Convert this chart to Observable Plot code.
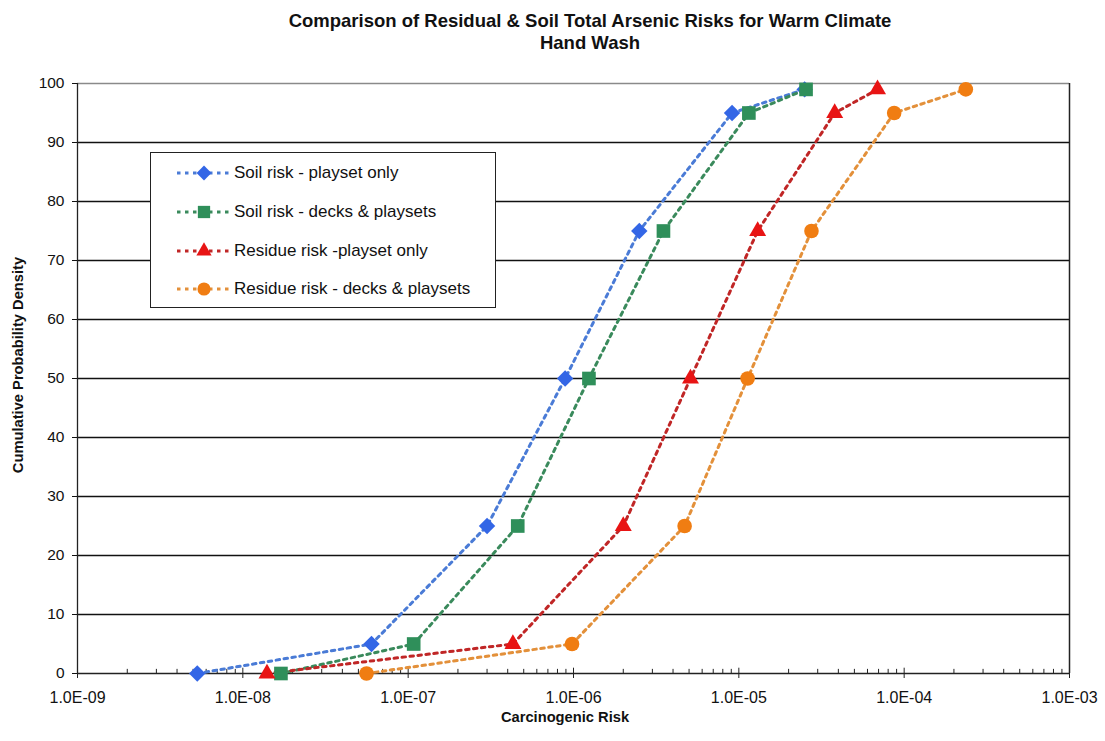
<!DOCTYPE html>
<html>
<head>
<meta charset="utf-8">
<script src="https://cdn.jsdelivr.net/npm/d3@7"></script>
<script src="https://cdn.jsdelivr.net/npm/@observablehq/plot@0.6"></script>
<style>
  body { margin: 0; background: #fff; font-family: "Liberation Sans", Arial, sans-serif; }
  #wrap { position: relative; width: 1105px; height: 741px; overflow: hidden; }
  #title { position: absolute; top: 10px; left: 90px; width: 1000px; text-align: center; font-weight: bold; font-size: 18.5px; line-height: 22px; color: #111; }
  #chart { position: absolute; top: 60px; left: 0; }
  #xtitle { position: absolute; top: 709px; left: 0; width: 1130px; text-align: center; font-weight: bold; font-size: 14.7px; color: #111; }
  #ytitle { position: absolute; left: 18px; top: 365px; transform: translate(-50%, -50%) rotate(-90deg); white-space: nowrap; font-weight: bold; font-size: 14.7px; color: #111; }
  #legend { position: absolute; left: 150px; top: 152px; width: 346px; height: 156px; border: 1.5px solid #222; background: #fff; box-sizing: border-box; padding-top: 1px; }
  .row { height: 38.7px; display: flex; align-items: center; }
  .row svg { margin-left: 24px; margin-right: 1px; }
  .row span { font-size: 17px; color: #111; white-space: nowrap; }
</style>
</head>
<body>
<div id="wrap">
  <div id="title">Comparison of Residual &amp; Soil Total Arsenic Risks for Warm Climate<br>Hand Wash</div>
  <div id="chart"></div>
  <div id="xtitle">Carcinogenic Risk</div>
  <div id="ytitle">Cumulative Probability Density</div>
  <div id="legend"></div>
</div>
<script>
// ---- data ----
const seriesNames = [
  "Soil risk - playset only",
  "Soil risk - decks & playsets",
  "Residue risk -playset only",
  "Residue risk - decks & playsets"
];
const percentiles = [0, 5, 25, 50, 75, 95, 99];
const soilPlaysetRisk   = [5.3e-9, 6.0e-8, 3.0e-7, 8.9e-7, 2.5e-6, 9.1e-6, 2.5e-5];
const soilDecksRisk     = [1.7e-8, 1.08e-7, 4.6e-7, 1.24e-6, 3.5e-6, 1.15e-5, 2.55e-5];
const residuePlaysetRisk= [1.4e-8, 4.3e-7, 2.0e-6, 5.1e-6, 1.3e-5, 3.8e-5, 6.9e-5];
const residueDecksRisk  = [5.6e-8, 9.8e-7, 4.7e-6, 1.13e-5, 2.75e-5, 8.7e-5, 2.36e-4];
const xMajorTicks = [1e-9, 1e-8, 1e-7, 1e-6, 1e-5, 1e-4, 1e-3];
const yTicks = [0, 10, 20, 30, 40, 50, 60, 70, 80, 90, 100];

const lineColors = ["#4a7bd6", "#3a8a5c", "#c02626", "#e3903a"];
const dotColors  = ["#3366e6", "#2f8f5a", "#e81414", "#f07d12"];
const symbols    = ["diamond2", "square", "triangle", "circle"];
const symbolR    = [7.4, 7.7, 6.3, 7.3];

const allRisks = [soilPlaysetRisk, soilDecksRisk, residuePlaysetRisk, residueDecksRisk];
const data = [];
allRisks.forEach((arr, i) => arr.forEach((v, j) => data.push({series: seriesNames[i], risk: v, p: percentiles[j], idx: i})));

const minorTicks = [];
xMajorTicks.slice(0, -1).forEach(m => { for (let k = 2; k <= 9; k++) minorTicks.push(m * k); });

const fmt = d => {
  const e = Math.round(Math.log10(d));
  return "1.0E" + (e < 0 ? "-" : "+") + String(Math.abs(e)).padStart(2, "0");
};

const marks = [
  Plot.ruleY(yTicks.filter(d => d > 0 && d < 100), {stroke: "#111", strokeWidth: 1.3}),
  Plot.ruleY([100], {stroke: "#8a8a8a", strokeWidth: 1.5}),
  Plot.ruleX([1e-3], {stroke: "#222", strokeWidth: 1.5}),
  Plot.ruleX([1e-9], {stroke: "#222", strokeWidth: 1.3}),
  Plot.ruleY([0], {stroke: "#222", strokeWidth: 1.3}),
  Plot.ruleX(minorTicks, {y1: 0, y2: 0.7, stroke: "#222", strokeWidth: 1}),
  Plot.ruleX(xMajorTicks, {y1: 0, y2: 0.9, stroke: "#222", strokeWidth: 1}),
  Plot.axisX(xMajorTicks, {tickFormat: fmt, tickSize: 5, tickPadding: 13, label: null, fontSize: 16, stroke: "#222"}),
  Plot.axisY(yTicks, {tickSize: 5, tickPadding: 8, label: null, fontSize: 15.5}),
];
seriesNames.forEach((s, i) => {
  const d = data.filter(r => r.idx === i);
  marks.push(Plot.line(d, {x: "risk", y: "p", stroke: lineColors[i], strokeWidth: 3, strokeDasharray: "3.5,4.5", curve: "linear"}));
});
seriesNames.forEach((s, i) => {
  const d = data.filter(r => r.idx === i);
  marks.push(Plot.dot(d, {x: "risk", y: "p", fill: dotColors[i], stroke: "none", symbol: () => symbols[i], r: symbolR[i]}));
});

const chart = Plot.plot({
  width: 1105,
  height: 681,
  marginLeft: 77,
  marginRight: 36,
  marginTop: 23,
  marginBottom: 68,
  style: {fontFamily: "Liberation Sans, Arial, sans-serif", fontSize: "15px", color: "#111", background: "#fff"},
  x: {type: "log", domain: [1e-9, 1e-3]},
  y: {domain: [0, 100]},
  symbol: {type: "identity"},
  marks
});
document.getElementById("chart").appendChild(chart);

// legend
const leg = document.getElementById("legend");
const symTypes = {diamond2: d3.symbolDiamond2, square: d3.symbolSquare, triangle: d3.symbolTriangle, circle: d3.symbolCircle};
seriesNames.forEach((s, i) => {
  const row = document.createElement("div");
  row.className = "row";
  const r = symbolR[i] * 0.9;
  const sym = d3.symbol().type(symTypes[symbols[i]]).size(Math.PI * r * r)();
  row.innerHTML = `<svg width="58" height="18"><line x1="2" y1="9" x2="56" y2="9" stroke="${lineColors[i]}" stroke-width="3" stroke-dasharray="3.5,4.5"/><path d="${sym}" transform="translate(29,9)" fill="${dotColors[i]}"/></svg><span>${s.replace("&", "&amp;")}</span>`;
  leg.appendChild(row);
});
</script>
</body>
</html>
